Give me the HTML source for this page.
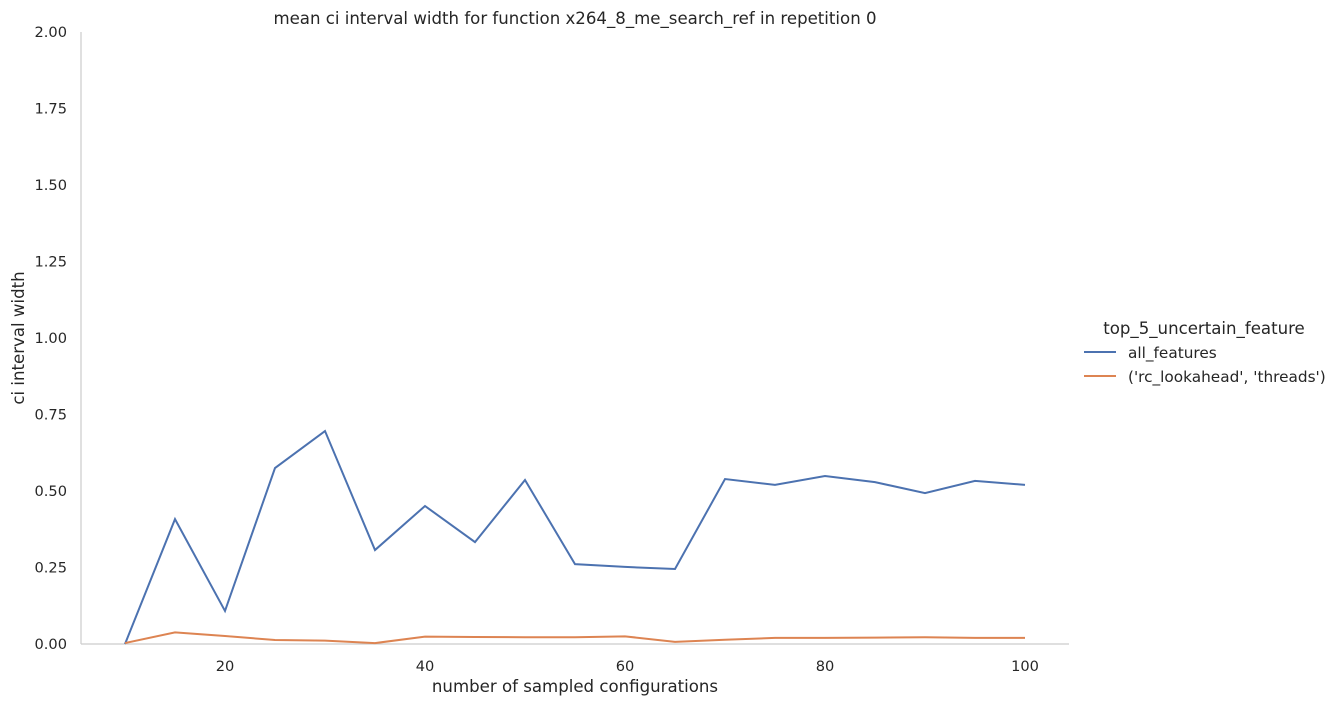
<!DOCTYPE html>
<html><head><meta charset="utf-8"><style>
body{margin:0;background:#fff;font-family:"DejaVu Sans",sans-serif;}
svg text{font-family:"DejaVu Sans",sans-serif;fill:#262626;}
</style></head><body>
<svg id="chart" width="1338" height="706" viewBox="0 0 1338 706" xmlns="http://www.w3.org/2000/svg">
<text x="575" y="24" text-anchor="middle" font-size="16.6">mean ci interval width for function x264_8_me_search_ref in repetition 0</text>
<line x1="81" y1="32" x2="81" y2="644" stroke="#cccccc" stroke-width="1.2"/>
<line x1="81" y1="644" x2="1069" y2="644" stroke="#cccccc" stroke-width="1.2"/>
<g id="yticks"></g><g id="xticks"></g><g id="series"></g>
<text x="575" y="692" text-anchor="middle" font-size="16.6">number of sampled configurations</text>
<text transform="translate(24,338) rotate(-90)" text-anchor="middle" font-size="16.6">ci interval width</text>
<g>
<text x="1204" y="334" text-anchor="middle" font-size="16.6">top_5_uncertain_feature</text>
<line x1="1084" y1="352" x2="1116" y2="352" stroke="#4c72b0" stroke-width="2"/>
<text x="1128" y="358" font-size="15.3">all_features</text>
<line x1="1084" y1="376" x2="1116" y2="376" stroke="#dd8452" stroke-width="2"/>
<text x="1128" y="382" font-size="15.3">('rc_lookahead', 'threads')</text>
</g>
</svg>
<script>
const xValues=[10,15,20,25,30,35,40,45,50,55,60,65,70,75,80,85,90,95,100];
const allFeatures=[0.0,0.408,0.108,0.575,0.696,0.307,0.451,0.333,0.536,0.261,0.252,0.245,0.539,0.520,0.549,0.529,0.493,0.533,0.520];
const rcLookaheadThreads=[0.003,0.038,0.026,0.013,0.011,0.003,0.024,0.023,0.022,0.022,0.025,0.007,0.014,0.020,0.020,0.021,0.022,0.020,0.020];
const yTickValues=[0,0.25,0.5,0.75,1.0,1.25,1.5,1.75,2.0];
const yTickLabels=["0.00","0.25","0.50","0.75","1.00","1.25","1.50","1.75","2.00"];
const xTickValues=[20,40,60,80,100];
const NS="http://www.w3.org/2000/svg";
function xs(v){return 125+(v-10)*10;}
function ys(v){return 644-v*306;}
const yt=document.getElementById('yticks');
yTickValues.forEach((v,i)=>{const t=document.createElementNS(NS,'text');


t.setAttribute('x',67);t.setAttribute('y',ys(v)+5);t.setAttribute('text-anchor','end');t.setAttribute('font-size','14.6');t.textContent=yTickLabels[i];yt.appendChild(t);});
const xt=document.getElementById('xticks');
xTickValues.forEach(v=>{const t=document.createElementNS(NS,'text');


t.setAttribute('x',xs(v));t.setAttribute('y',671);t.setAttribute('text-anchor','middle');t.setAttribute('font-size','14.6');t.textContent=v;xt.appendChild(t);});
const sg=document.getElementById('series');
function line(vals,color,name){const p=document.createElementNS(NS,'polyline');


p.setAttribute('points',vals.map((v,i)=>xs(xValues[i])+','+ys(v)).join(' '));
p.setAttribute('fill','none');p.setAttribute('stroke',color);p.setAttribute('stroke-width','2');sg.appendChild(p);}
line(allFeatures,'#4c72b0','series-all-features');
line(rcLookaheadThreads,'#dd8452','series-rc-lookahead-threads');
</script>
</body></html>
